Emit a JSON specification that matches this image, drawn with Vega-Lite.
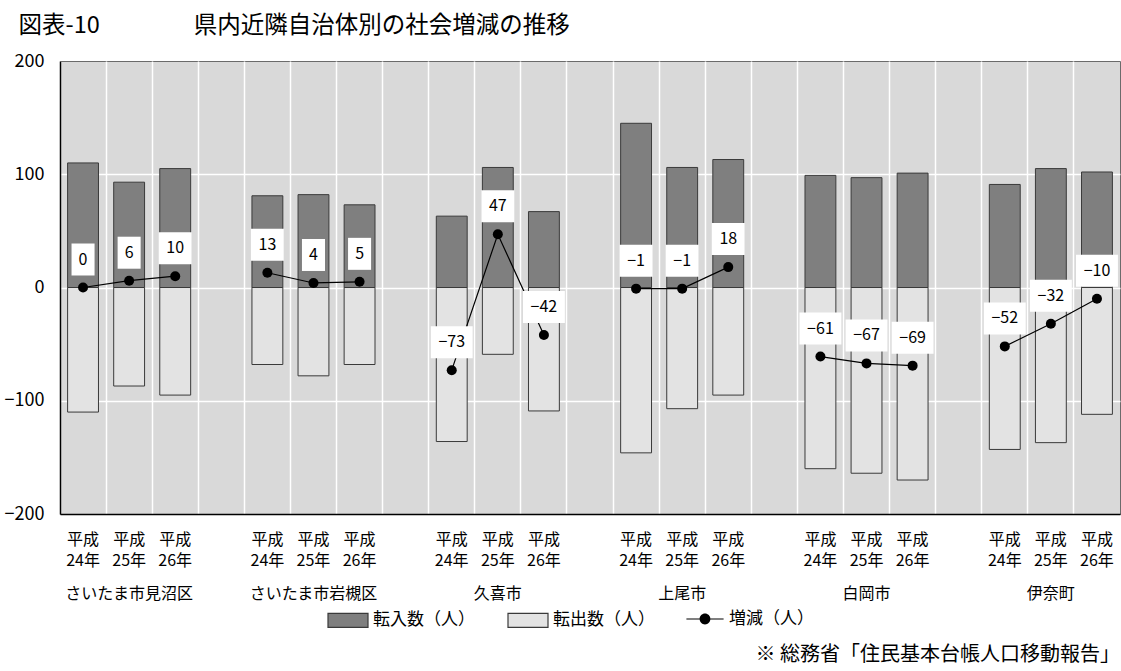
{
  "$schema": "https://vega.github.io/schema/vega-lite/v6.json",
  "width": 1060,
  "height": 453,
  "autosize": {"type": "none"},
  "padding": {"left": 60, "top": 61, "right": 1, "bottom": 157},
  "background": "white",
  "config": {
    "font": "Noto Sans CJK JP",
    "view": {"fill": "#d9d9d9", "stroke": "#6b6b6b", "strokeWidth": 1}
  },
  "title": {
    "text": "※ 総務省「住民基本台帳人口移動報告」",
    "orient": "bottom",
    "anchor": "end",
    "frame": "group",
    "fontSize": 20,
    "fontWeight": "normal",
    "color": "#000",
    "offset": 15
  },
  "data": {
    "values": [
      {"muni": "さいたま市見沼区", "key": "さいたま市見沼区|24年", "in": 110, "out": -110, "net": 0},
      {"muni": "さいたま市見沼区", "key": "さいたま市見沼区|25年", "in": 93, "out": -87, "net": 6},
      {"muni": "さいたま市見沼区", "key": "さいたま市見沼区|26年", "in": 105, "out": -95, "net": 10},
      {"muni": "さいたま市岩槻区", "key": "さいたま市岩槻区|24年", "in": 81, "out": -68, "net": 13},
      {"muni": "さいたま市岩槻区", "key": "さいたま市岩槻区|25年", "in": 82, "out": -78, "net": 4},
      {"muni": "さいたま市岩槻区", "key": "さいたま市岩槻区|26年", "in": 73, "out": -68, "net": 5},
      {"muni": "久喜市", "key": "久喜市|24年", "in": 63, "out": -136, "net": -73},
      {"muni": "久喜市", "key": "久喜市|25年", "in": 106, "out": -59, "net": 47},
      {"muni": "久喜市", "key": "久喜市|26年", "in": 67, "out": -109, "net": -42},
      {"muni": "上尾市", "key": "上尾市|24年", "in": 145, "out": -146, "net": -1},
      {"muni": "上尾市", "key": "上尾市|25年", "in": 106, "out": -107, "net": -1},
      {"muni": "上尾市", "key": "上尾市|26年", "in": 113, "out": -95, "net": 18},
      {"muni": "白岡市", "key": "白岡市|24年", "in": 99, "out": -160, "net": -61},
      {"muni": "白岡市", "key": "白岡市|25年", "in": 97, "out": -164, "net": -67},
      {"muni": "白岡市", "key": "白岡市|26年", "in": 101, "out": -170, "net": -69},
      {"muni": "伊奈町", "key": "伊奈町|24年", "in": 91, "out": -143, "net": -52},
      {"muni": "伊奈町", "key": "伊奈町|25年", "in": 105, "out": -137, "net": -32},
      {"muni": "伊奈町", "key": "伊奈町|26年", "in": 102, "out": -112, "net": -10}
    ]
  },
  "encoding": {
    "x": {
      "field": "key",
      "type": "nominal",
      "scale": {
        "domain": [
          "さいたま市見沼区|24年", "さいたま市見沼区|25年", "さいたま市見沼区|26年", "g1",
          "さいたま市岩槻区|24年", "さいたま市岩槻区|25年", "さいたま市岩槻区|26年", "g2",
          "久喜市|24年", "久喜市|25年", "久喜市|26年", "g3",
          "上尾市|24年", "上尾市|25年", "上尾市|26年", "g4",
          "白岡市|24年", "白岡市|25年", "白岡市|26年", "g5",
          "伊奈町|24年", "伊奈町|25年", "伊奈町|26年"
        ],
        "paddingInner": 0,
        "paddingOuter": 0
      },
      "axis": {
        "title": null,
        "bandPosition": 0,
        "ticks": false,
        "grid": true,
        "gridColor": "#ffffff",
        "gridWidth": 1.5,
        "domainColor": "#000000",
        "domainWidth": 1.5,
        "labelFontSize": 16,
        "labelColor": "#000000",
        "labelPadding": 17,
        "labelLineHeight": 10.8,
        "labelOverlap": false,
        "labelBound": false,
        "labelFlush": false,
        "labelAngle": 0,
        "labelExpr": "!isString(datum.value) || indexof(datum.value,'|') < 0 ? '' : (split(datum.value,'|')[1] == '25年' ? ['平成', '\u200b', '25年', '\u200b', '\u200b', split(datum.value,'|')[0]] : ['平成', '\u200b', split(datum.value,'|')[1]])"
      }
    }
  },
  "layer": [
    {
      "transform": [{"fold": ["in", "out"], "as": ["series", "value"]}],
      "mark": {"type": "bar", "width": {"band": 0.67}, "stroke": "#3a3a3a", "strokeWidth": 1},
      "encoding": {
        "y": {
          "field": "value",
          "type": "quantitative",
          "stack": null,
          "scale": {"domain": [-200, 200], "nice": false},
          "axis": {
            "title": "図表-10　　　　県内近隣自治体別の社会増減の推移",
            "titleAngle": 0,
            "titleAlign": "left",
            "titleBaseline": "middle",
            "titleX": -42,
            "titleY": -36,
            "titleFontSize": 23.5,
            "titleFontWeight": "normal",
            "titleColor": "#000000",
            "values": [-200, -100, 0, 100, 200],
            "format": "d",
            "labelFontSize": 18,
            "labelColor": "#000000",
            "labelPadding": 16,
            "labelFlush": false,
            "ticks": false,
            "domainColor": "#000000",
            "domainWidth": 1.5,
            "gridColor": "#ffffff",
            "gridWidth": 1.5,
            "gridOpacity": {"condition": {"test": "abs(datum.value) >= 200", "value": 0}, "value": 1}
          }
        },
        "fill": {
          "field": "series",
          "type": "nominal",
          "scale": {"domain": ["in", "out"], "range": ["#7f7f7f", "#e3e3e3"]},
          "legend": {
            "orient": "none",
            "legendX": 267,
            "legendY": 538,
            "direction": "horizontal",
            "title": null,
            "padding": 0,
            "symbolType": "M-1,-0.35H1V0.35H-1Z",
            "symbolSize": 1600,
            "symbolStrokeColor": "#3a3a3a",
            "symbolStrokeWidth": 1.2,
            "symbolOpacity": 1,
            "labelFontSize": 17,
            "labelColor": "#000000",
            "labelOffset": 4,
            "columnPadding": 30,
            "labelExpr": "datum.value == 'in' ? '転入数（人）' : '転出数（人）'"
          }
        }
      }
    },
    {
      "mark": {"type": "line", "strokeWidth": 1.2, "color": "#000000"},
      "encoding": {
        "y": {"field": "net", "type": "quantitative"},
        "detail": {"field": "muni"}
      }
    },
    {
      "mark": {"type": "point", "filled": true, "shape": "circle", "size": 100, "opacity": 1},
      "encoding": {
        "y": {"field": "net", "type": "quantitative"},
        "color": {
          "datum": "増減（人）",
          "scale": {"domain": ["増減（人）"], "range": ["#000000"]},
          "legend": {
            "orient": "none",
            "legendX": 625,
            "legendY": 538,
            "direction": "horizontal",
            "title": null,
            "padding": 0,
            "symbolType": "M-0.93,-0.03H-0.27V0.03H-0.93Z M0.27,-0.03H0.93V0.03H0.27Z M-0.27,0A0.27,0.27,0,1,1,0.27,0A0.27,0.27,0,1,1,-0.27,0Z",
            "symbolSize": 1600,
            "symbolFillColor": "#000000",
            "symbolStrokeWidth": 0,
            "symbolOpacity": 1,
            "labelFontSize": 17,
            "labelColor": "#000000",
            "labelOffset": 4
          }
        }
      }
    },
    {
      "mark": {"type": "point", "filled": true, "color": "#ffffff", "opacity": 1, "size": 1024, "yOffset": -28},
      "encoding": {
        "y": {"field": "net", "type": "quantitative"},
        "shape": {
          "condition": [
            {"test": "datum.net <= -10", "value": "M-1.31,-1H1.31V1H-1.31Z"},
            {"test": "datum.net >= 10 || datum.net < 0", "value": "M-1.03,-1H1.03V1H-1.03Z"}
          ],
          "value": "M-0.72,-1H0.72V1H-0.72Z"
        }
      }
    },
    {
      "mark": {"type": "text", "fontSize": 16, "color": "#000000", "yOffset": -28, "baseline": "middle"},
      "encoding": {
        "y": {"field": "net", "type": "quantitative"},
        "text": {"field": "net", "type": "quantitative", "format": "d"}
      }
    }
  ]
}
